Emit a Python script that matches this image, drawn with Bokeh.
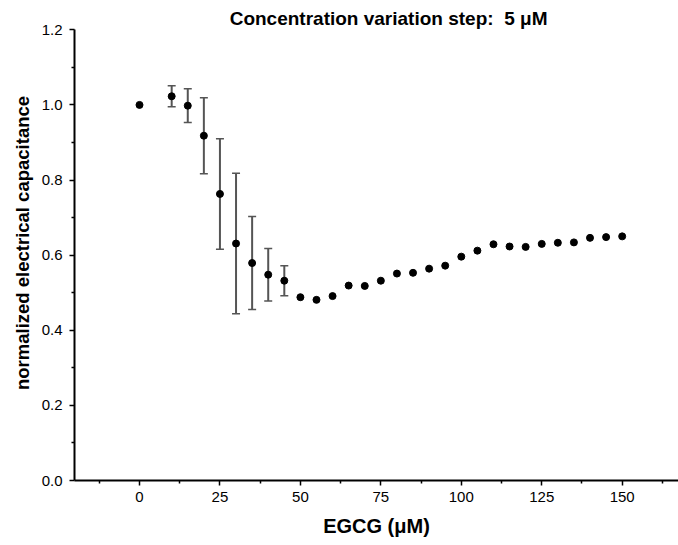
from bokeh.plotting import figure
from bokeh.models import (ColumnDataSource, Whisker, TeeHead, Label, FixedTicker,
                          Range1d, CustomJSTickFormatter)
from bokeh.embed import file_html
from bokeh.resources import INLINE

# --- data ---
egcg = [0, 10, 15, 20, 25, 30, 35, 40, 45, 50, 55, 60, 65, 70, 75, 80, 85, 90,
        95, 100, 105, 110, 115, 120, 125, 130, 135, 140, 145, 150]
capacitance = [1.000, 1.023, 0.998, 0.918, 0.763, 0.631, 0.579, 0.548, 0.532,
               0.488, 0.481, 0.491, 0.519, 0.518, 0.532, 0.551, 0.553, 0.564,
               0.572, 0.596, 0.612, 0.629, 0.623, 0.622, 0.630, 0.633, 0.634,
               0.646, 0.648, 0.650]
err_x = [10, 15, 20, 25, 30, 35, 40, 45]
err_y = [1.023, 0.998, 0.918, 0.763, 0.631, 0.579, 0.548, 0.532]
err_sd = [0.028, 0.045, 0.101, 0.147, 0.187, 0.124, 0.070, 0.040]
x_ticks = [0, 25, 50, 75, 100, 125, 150]
x_minor = [-12.5, 12.5, 37.5, 62.5, 87.5, 112.5, 137.5, 162.5]
y_ticks = [0.0, 0.2, 0.4, 0.6, 0.8, 1.0, 1.2]
y_minor = [0.1, 0.3, 0.5, 0.7, 0.9, 1.1]
title_text = "Concentration variation step:\u00a0 5 \u03bcM"

FONT = "Liberation Sans"

p = figure(width=678, height=545, output_backend="svg", toolbar_location=None,
           x_range=Range1d(-20.2, 167.5), y_range=Range1d(0, 1.2647),
           min_border_left=74, min_border_right=0, min_border_top=5,
           min_border_bottom=65)
p.outline_line_color = None
p.grid.visible = False
p.background_fill_color = "white"
p.border_fill_color = "white"

for ax in (p.xaxis[0], p.yaxis[0]):
    ax.axis_line_width = 2
    ax.axis_line_color = "black"
    ax.major_tick_line_width = 1.5
    ax.minor_tick_line_width = 1.5
    ax.major_tick_in = 0
    ax.major_tick_out = 5
    ax.minor_tick_in = 0
    ax.minor_tick_out = 3
    ax.major_label_text_font = FONT
    ax.major_label_text_font_size = "15px"
    ax.major_label_text_color = "black"
    ax.axis_label_text_font = FONT
    ax.axis_label_text_font_style = "bold"
    ax.axis_label_text_color = "black"

p.xaxis.axis_label_text_font_size = "20px"
p.yaxis.axis_label_text_font_size = "18.5px"
p.xaxis.ticker = FixedTicker(ticks=x_ticks, minor_ticks=x_minor)
p.yaxis.ticker = FixedTicker(ticks=y_ticks, minor_ticks=y_minor)
p.yaxis.formatter = CustomJSTickFormatter(code="return tick.toFixed(1);")
p.yaxis.bounds = (0, 1.2)
p.xaxis.major_label_standoff = 6
p.yaxis.major_label_standoff = 7
p.xaxis.axis_label = "EGCG (\u03bcM)"
p.yaxis.axis_label = "normalized electrical capacitance"
p.xaxis.axis_label_standoff = 10
p.yaxis.axis_label_standoff = 6

esrc = ColumnDataSource(dict(x=err_x,
                             lower=[y - e for y, e in zip(err_y, err_sd)],
                             upper=[y + e for y, e in zip(err_y, err_sd)]))
w = Whisker(source=esrc, base="x", lower="lower", upper="upper",
            line_color="#555555", line_width=2,
            upper_head=TeeHead(size=8, line_color="#555555", line_width=1.5),
            lower_head=TeeHead(size=8, line_color="#555555", line_width=1.5))
p.add_layout(w)

src = ColumnDataSource(dict(x=egcg, y=capacitance))
p.scatter("x", "y", source=src, size=7, color="black")

title = Label(x=77.4, y=1.23, text=title_text,
              text_font=FONT, text_font_size="19px", text_font_style="bold",
              text_align="center", text_baseline="middle", text_color="black")
p.add_layout(title)

open("out.html", "w").write(file_html(p, INLINE))
